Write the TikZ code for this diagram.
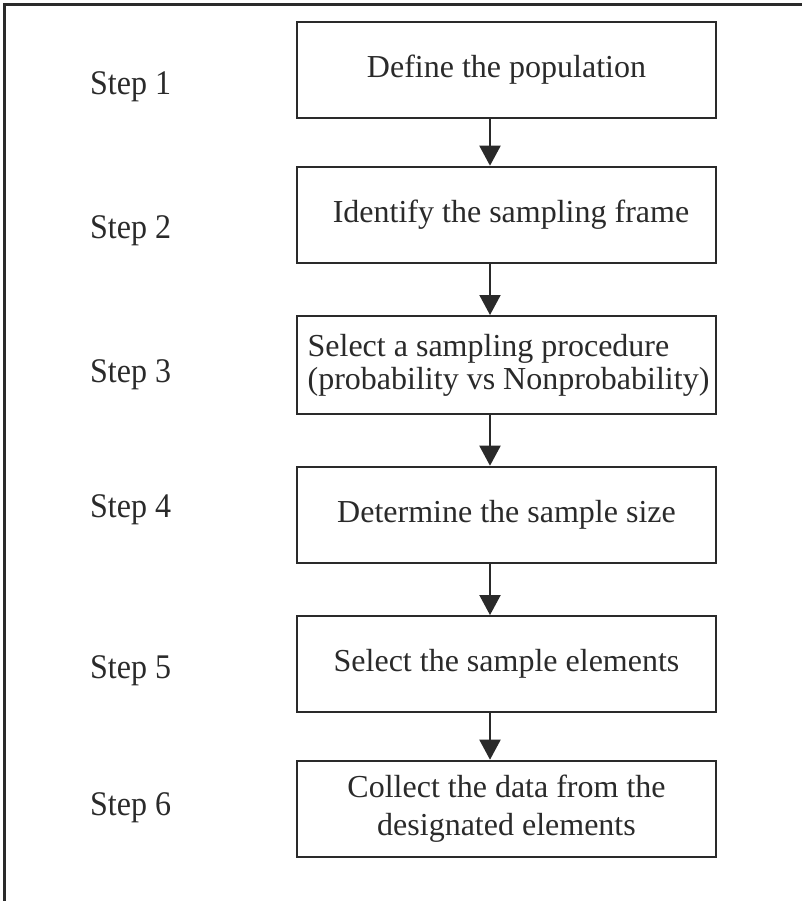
\documentclass[tikz,border=0pt]{standalone}
\usepackage{fontspec}
\setmainfont{Liberation Serif}
\usetikzlibrary{arrows.meta}

\definecolor{ink}{HTML}{2A2A2A}

\tikzset{
  stepbox/.style={draw=ink, line width=2pt, minimum width=419pt,
    inner sep=0pt, text=ink, font=\fontsize{32}{36}\selectfont},
  steplabel/.style={anchor=base west, inner sep=0pt, text=ink, yscale=1.08,
    font=\fontsize{32}{36}\selectfont},
  flow/.style={draw=ink, line width=2pt,
    -{Triangle[width=21pt,length=20pt]}},
}

\begin{document}
\begin{tikzpicture}[x=1pt,y=-1pt]
  \useasboundingbox (0,0) rectangle (802,901);
  \clip (0,0) rectangle (802,901);
  \fill[white] (0,0) rectangle (802,901);

  % outer frame (runs off the right and bottom edges)
  \draw[ink, line width=2.4pt] (4.5,910) -- (4.5,4.5) -- (810,4.5);

  % process boxes
  \node[stepbox, minimum height=96pt] (b1) at (506.5,70)
    {Define the population};
  \node[stepbox, minimum height=96pt] (b2) at (506.5,214.7)
    {\hspace*{9pt}Identify the sampling frame};
  \node[stepbox, minimum height=98pt, align=left] (b3) at (506.5,365)
    {\hspace*{4pt}Select a sampling procedure\\[-3pt]\hspace*{4pt}(probability vs Nonprobability)};
  \node[stepbox, minimum height=96.6pt] (b4) at (506.5,515)
    {Determine the sample size};
  \node[stepbox, minimum height=96.3pt] (b5) at (506.5,664.2)
    {Select the sample elements};
  \node[stepbox, minimum height=96pt, align=center] (b6) at (506.5,808.7)
    {Collect the data from the\\[2pt]designated elements};

  % step labels
  \node[steplabel] (s1) at (90,95)  {Step 1};
  \node[steplabel] (s2) at (90,239) {Step 2};
  \node[steplabel] (s3) at (90,382) {Step 3};
  \node[steplabel] (s4) at (90,517) {Step 4};
  \node[steplabel] (s5) at (90,678) {Step 5};
  \node[steplabel] (s6) at (90,815) {Step 6};

  % connectors, set a little left of the box centres
  \foreach \a/\b in {b1/b2,b2/b3,b3/b4,b4/b5,b5/b6}
    \draw[flow] ([xshift=-16.5pt]\a.south) -- ([xshift=-16.5pt]\b.north);
\end{tikzpicture}
\end{document}
